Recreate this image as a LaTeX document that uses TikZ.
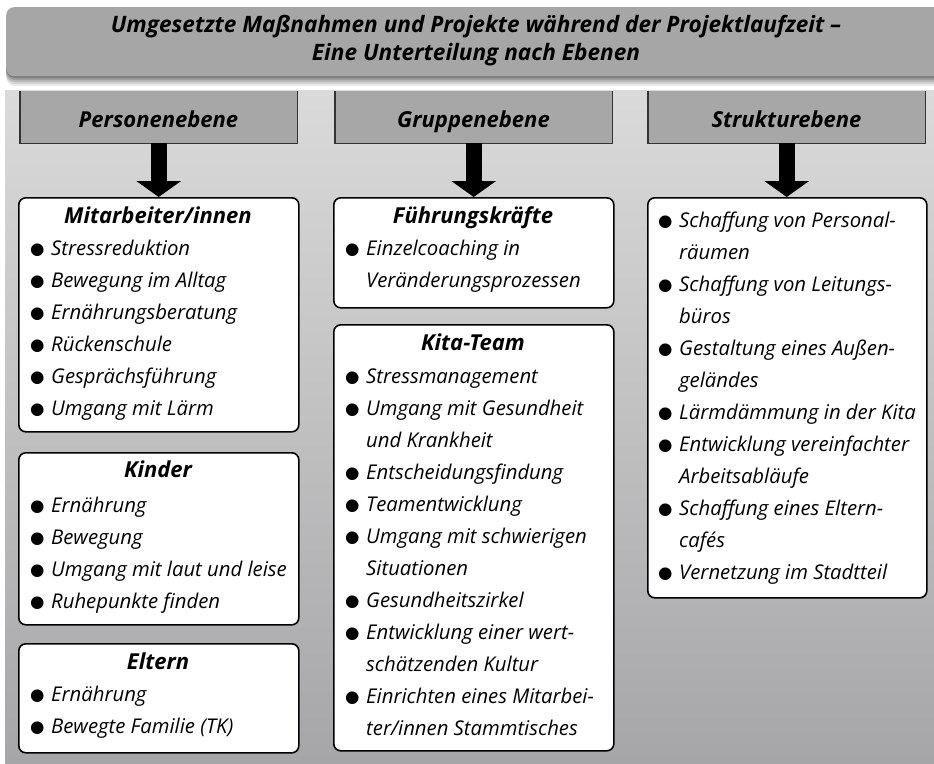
\documentclass[tikz,border=0pt]{standalone}
\usepackage{fontspec}
\setmainfont{Open Sans}
\newfontfamily\djv{DejaVu Sans}
\usetikzlibrary{arrows.meta}
\definecolor{bgtop}{HTML}{DADADA}
\definecolor{bgbot}{HTML}{A6A6A8}
\definecolor{hdr}{HTML}{A7A7A7}
\definecolor{ttl}{HTML}{A6A6A6}
\newcommand\bl{\makebox[21pt][l]{\raisebox{0.5pt}{\djv\fontsize{16.5}{16.5}\selectfont ●}}}
\newcommand\ind{\hspace*{21pt}}
\newcommand\fst{\rule{0pt}{22pt}}
\tikzset{
  wbox/.style={draw=black, line width=1.6pt, fill=white, rounded corners=7pt, anchor=north west, inner sep=0pt},
  hbox/.style={fill=hdr, anchor=north west, inner sep=0pt},
  hline/.style={draw=black!80, line width=1.4pt},
  htext/.style={anchor=base, inner sep=0pt, font=\bfseries\itshape\fontsize{22}{24}\selectfont},
  ttext/.style={anchor=base, inner sep=0pt, font=\bfseries\itshape\fontsize{22.6}{24}\selectfont},
  btitle/.style={anchor=base, inner sep=0pt, font=\bfseries\itshape\fontsize{22}{24}\selectfont},
  lst/.style={anchor=north west, inner sep=0pt, align=left, font=\itshape\fontsize{20.3}{32}\selectfont},
  arr/.style={line width=16pt, -{Triangle[width=44pt,length=16pt]}},
}
\begin{document}
\begin{tikzpicture}[x=1pt,y=-1pt]
\useasboundingbox (0,0) rectangle (934,763);
% background panel
\shade[top color=bgtop, bottom color=bgbot] (5,90) rectangle (934,763);
% title shadow
\foreach \o/\a in {10/0.08,8/0.1,6/0.12,4/0.15,2/0.2}{
  \fill[black, opacity=\a, rounded corners=9pt] (6,{12+\o}) rectangle (944,{76+\o});
}
\node[fill=ttl, rounded corners=8pt, anchor=north west, inner sep=0pt, minimum width=940pt, minimum height=69pt] (title) at (6,7) {};
\node[ttext] (t1) at (476,32) {Umgesetzte Maßnahmen und Projekte während der Projektlaufzeit –};
\node[ttext] (t2) at (476,60) {Eine Unterteilung nach Ebenen};
% headers
\node[hbox, minimum width=277pt, minimum height=52pt] (hp) at (20,91) {};
\node[hbox, minimum width=277pt, minimum height=52pt] (hg) at (335,91) {};
\node[hbox, minimum width=277pt, minimum height=52pt] (hs) at (648,91) {};
\foreach \h in {hp,hg,hs}{
  \draw[hline] (\h.north west) |- (\h.south east) -- (\h.north east);
}
\node[htext] (hpt) at (158.5,127) {Personenebene};
\node[htext] (hgt) at (473.5,127) {Gruppenebene};
\node[htext] (hst) at (786.5,127) {Strukturebene};
% boxes
\node[wbox, minimum width=280pt, minimum height=234pt] (mit) at (18,197) {};
\node[wbox, minimum width=280pt, minimum height=172pt] (kin) at (18,452) {};
\node[wbox, minimum width=280pt, minimum height=109pt] (elt) at (18,643) {};
\node[wbox, minimum width=280pt, minimum height=110pt] (fue) at (333,197) {};
\node[wbox, minimum width=280pt, minimum height=426pt] (kit) at (333,324) {};
\node[wbox, minimum width=279pt, minimum height=400pt] (str) at (647,197) {};
% arrows
\draw[arr] (hp.south) -- (hp.south |- mit.north);
\draw[arr] (hg.south) -- (hg.south |- fue.north);
\draw[arr] (hs.south) -- (hs.south |- str.north);
% texts
\node[btitle] (mitt) at (158,223) {Mitarbeiter/innen};
\node[lst] (mitl) at (30,233) {\fst\bl Stressreduktion\\\bl Bewegung im Alltag\\\bl Ernährungsberatung\\\bl Rückenschule\\\bl Gesprächsführung\\\bl Umgang mit Lärm};
\node[btitle] (kint) at (158,477) {Kinder};
\node[lst] (kinl) at (30,490) {\fst\bl Ernährung\\\bl Bewegung\\\bl Umgang mit laut und leise\\\bl Ruhepunkte finden};
\node[btitle] (eltt) at (158,669) {Eltern};
\node[lst] (eltl) at (30,679) {\fst\bl Ernährung\\\bl Bewegte Familie (TK)};
\node[btitle] (fuet) at (473,223) {Führungskräfte};
\node[lst] (fuel) at (345,233) {\fst\bl Einzelcoaching in\\\ind Veränderungsprozessen};
\node[btitle] (kitt) at (473,350) {Kita-Team};
\node[lst] (kitl) at (345,361) {\fst\bl Stressmanagement\\\bl Umgang mit Gesundheit\\\ind und Krankheit\\\bl Entscheidungsfindung\\\bl Teamentwicklung\\\bl Umgang mit schwierigen\\\ind Situationen\\\bl Gesundheitszirkel\\\bl Entwicklung einer wert-\\\ind schätzenden Kultur\\\bl Einrichten eines Mitarbei-\\\ind ter/innen Stammtisches};
\node[lst] (strl) at (658,205) {\fst\bl Schaffung von Personal-\\\ind räumen\\\bl Schaffung von Leitungs-\\\ind büros\\\bl Gestaltung eines Außen-\\\ind geländes\\\bl Lärmdämmung in der Kita\\\bl Entwicklung vereinfachter\\\ind Arbeitsabläufe\\\bl Schaffung eines Eltern-\\\ind cafés\\\bl Vernetzung im Stadtteil};
\end{tikzpicture}
\end{document}
